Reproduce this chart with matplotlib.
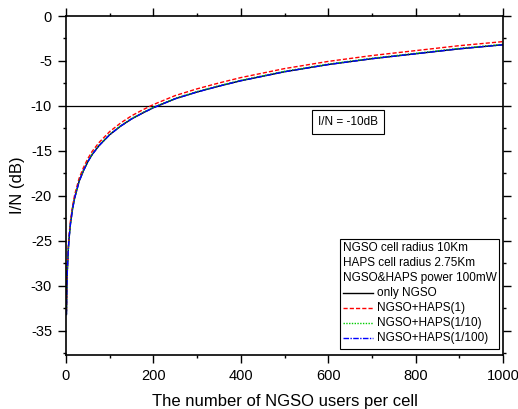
import numpy as np
from matplotlib import pyplot as plt
from matplotlib.ticker import MultipleLocator
from matplotlib.patches import Rectangle
from matplotlib.lines import Line2D

# number of NGSO users per cell
users = [1, 2, 3, 5, 7, 10, 15, 20, 30, 40, 50, 60, 75, 100, 125, 150, 175,
         200, 250, 300, 350, 400, 500, 600, 700, 800, 900, 1000]

# I/N in dB for each case
only_ngso = [-33.2, -30.2, -28.4, -26.2, -24.75, -23.2, -21.45, -20.2, -18.4, -17.2,
             -16.2, -15.4, -14.45, -13.2, -12.25, -11.45, -10.8, -10.2, -9.2, -8.45,
             -7.8, -7.2, -6.2, -5.4, -4.75, -4.2, -3.65, -3.2]
haps_1 = [-32.85, -29.85, -28.05, -25.85, -24.4, -22.85, -21.1, -19.85, -18.05, -16.85,
          -15.85, -15.05, -14.1, -12.85, -11.9, -11.1, -10.45, -9.85, -8.85, -8.1,
          -7.45, -6.85, -5.85, -5.05, -4.4, -3.85, -3.3, -2.85]
haps_10 = [-33.15, -30.15, -28.35, -26.15, -24.7, -23.15, -21.4, -20.15, -18.35, -17.15,
           -16.15, -15.35, -14.4, -13.15, -12.2, -11.4, -10.75, -10.15, -9.15, -8.4,
           -7.75, -7.15, -6.15, -5.35, -4.7, -4.15, -3.6, -3.15]
haps_100 = [-33.2, -30.2, -28.4, -26.2, -24.75, -23.2, -21.45, -20.2, -18.4, -17.2,
            -16.2, -15.4, -14.45, -13.2, -12.25, -11.45, -10.8, -10.2, -9.2, -8.45,
            -7.8, -7.2, -6.2, -5.4, -4.75, -4.2, -3.65, -3.2]

threshold = -10

info = ['NGSO cell radius 10Km', 'HAPS cell radius 2.75Km', 'NGSO&HAPS power 100mW']

plt.rcParams['font.family'] = ['Liberation Sans', 'DejaVu Sans']
plt.rcParams['axes.unicode_minus'] = False

W, H = 518, 409
L, R, T, B = 66, 503, 16, 355
fig = plt.figure(figsize=(W / 100, H / 100), dpi=100)
ax = fig.add_axes([L / W, 1 - B / H, (R - L) / W, (B - T) / H])


def ax_xy(px, py):
    # pixel position -> axes fraction
    return (px - L) / (R - L), (B - py) / (B - T)


ax.axhline(threshold, color='black', lw=0.9)
styles = [
    (only_ngso, 'black', '-', 'only NGSO'),
    (haps_1, 'red', (0, (3, 1.5)), 'NGSO+HAPS(1)'),
    (haps_10, '#00cc00', (0, (1, 1)), 'NGSO+HAPS(1/10)'),
    (haps_100, 'blue', (0, (4, 1, 1, 1)), 'NGSO+HAPS(1/100)'),
]
for vals, c, ls, lab in styles:
    ax.plot(users, vals, color=c, lw=1.0, ls=ls, label=lab)

ax.set_xlim(0, 1000)
ax.set_ylim(-37.7, 0)
ax.xaxis.set_major_locator(MultipleLocator(200))
ax.xaxis.set_minor_locator(MultipleLocator(100))
ax.yaxis.set_major_locator(MultipleLocator(5))
ax.yaxis.set_minor_locator(MultipleLocator(2.5))
ax.tick_params(which='both', direction='out', top=True, right=True, labelsize=10.5,
               width=1.0, pad=4.5)
ax.tick_params(which='major', length=5.5)
ax.tick_params(which='minor', length=2.5)
for s in ax.spines.values():
    s.set_linewidth(1.2)

ax.set_xlabel('The number of NGSO users per cell', fontsize=12, labelpad=8)
ax.set_ylabel('I/N (dB)', fontsize=12, labelpad=4)

# threshold annotation
x0, y0 = ax_xy(348, 122)
ax.text(x0, y0, 'I/N = -10dB', fontsize=8.5, ha='center', va='center',
        transform=ax.transAxes,
        bbox=dict(boxstyle='square,pad=0.5', fc='white', ec='black', lw=0.8))

# legend box with scenario description
bx0, by0 = ax_xy(340, 349)
bx1, by1 = ax_xy(499, 239)
ax.add_patch(Rectangle((bx0, by0), bx1 - bx0, by1 - by0, transform=ax.transAxes,
                       fc='white', ec='black', lw=0.8, zorder=5))
rows = [248.5, 263.5, 278.5]
for y, t in zip(rows, info):
    tx, ty = ax_xy(343, y)
    ax.text(tx, ty, t, fontsize=8.5, ha='left', va='center', transform=ax.transAxes, zorder=6)
rows = [293, 308, 323, 338]
for y, (vals, c, ls, lab) in zip(rows, styles):
    hx0, hy = ax_xy(343, y)
    hx1, _ = ax_xy(373, y)
    ax.add_line(Line2D([hx0, hx1], [hy, hy], color=c, ls=ls, lw=1.0,
                       transform=ax.transAxes, zorder=6))
    tx, _ = ax_xy(377, y)
    ax.text(tx, hy, lab, fontsize=8.5, ha='left', va='center', transform=ax.transAxes, zorder=6)

fig.savefig('out.png', dpi=100)
